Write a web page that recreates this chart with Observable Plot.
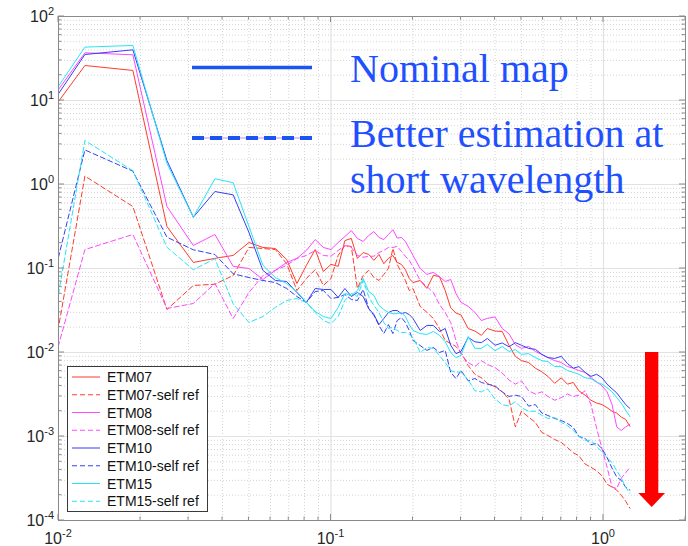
<!DOCTYPE html>
<html><head><meta charset="utf-8">
<script src="https://cdn.jsdelivr.net/npm/d3@7"></script>
<script src="https://cdn.jsdelivr.net/npm/@observablehq/plot@0.6"></script>
<style>
body{margin:0;background:#fff;}
#wrap{width:688px;height:546px;}
</style></head><body><div id="wrap"></div>
<script>
// spatial frequency samples
const freq = [0.00625,0.0125,0.01875,0.025,0.03125,0.0375,0.04375,0.05,0.05625,0.0625,
0.06875,0.075,0.08125,0.0875,0.09375,0.1,0.10625,0.1125,0.11875,0.125,
0.13125,0.1375,0.14375,0.15,0.15625,0.1625,0.16875,0.175,0.18125,0.1875,
0.19375,0.2,0.2125,0.225,0.2375,0.25,0.2625,0.275,0.2875,0.3,
0.31875,0.3375,0.35625,0.375,0.4,0.425,0.45,0.475,0.5,0.53125,
0.5625,0.59375,0.625,0.6625,0.7,0.7375,0.775,0.8125,0.85625,0.9,
0.94375,0.9875,1.03125,1.075,1.11875,1.1625,1.20625,1.25];

const ETM07 = [1.22,26.1,22.8,0.316,0.118,0.132,0.143,0.204,0.178,0.173,
0.128,0.0663,0.109,0.168,0.092,0.112,0.106,0.215,0.228,0.132,
0.155,0.147,0.125,0.147,0.114,0.132,0.143,0.118,0.112,0.097,
0.076,0.068,0.072,0.058,0.083,0.080,0.0547,0.034,0.0295,0.028,
0.0193,0.018,0.016,0.0193,0.018,0.0178,0.0122,0.0090,0.0080,0.0076,
0.0065,0.0059,0.0052,0.0043,0.0050,0.0042,0.0044,0.0035,0.0031,0.0027,
0.0025,0.0024,0.0022,0.0020,0.0019,0.0017,0.0016,0.00132];
const ETM07ref = [3.2e-6,1.26,0.547,0.0325,0.0628,0.065,0.0825,0.178,0.173,0.168,
0.114,0.0547,0.076,0.097,0.0628,0.076,0.143,0.188,0.183,0.0578,
0.0825,0.095,0.078,0.072,0.085,0.1,0.173,0.112,0.090,0.072,
0.0547,0.0578,0.0353,0.030,0.0254,0.0193,0.0139,0.0128,0.0118,0.0100,
0.0070,0.0055,0.0050,0.0043,0.0039,0.0034,0.0028,0.0013,0.0020,0.0017,
0.00147,0.00112,0.00103,0.00092,0.00085,0.00074,0.00064,0.00059,0.00047,0.00043,
0.00039,0.00034,0.00027,0.00025,0.00023,0.00020,0.00017,0.00014];
const ETM08 = [1.63,37,35,0.547,0.188,0.254,0.106,0.1,0.074,0.095,
0.118,0.132,0.164,0.221,0.178,0.168,0.204,0.240,0.283,0.228,
0.210,0.247,0.275,0.234,0.221,0.254,0.290,0.230,0.234,0.21,
0.173,0.143,0.1,0.085,0.090,0.080,0.070,0.074,0.0505,0.0395,
0.0355,0.030,0.024,0.0255,0.0265,0.0193,0.0167,0.0124,0.0112,0.0118,
0.0103,0.0095,0.0087,0.0080,0.0076,0.0068,0.0065,0.0061,0.0058,0.0050,
0.0045,0.0040,0.0034,0.0024,0.0013,0.00118,0.0013,0.0014];
const ETM08ref = [4.8e-5,0.168,0.254,0.0334,0.0383,0.0663,0.0254,0.0518,0.0825,0.095,
0.109,0.132,0.143,0.164,0.143,0.140,0.164,0.188,0.178,0.143,
0.136,0.140,0.140,0.155,0.164,0.178,0.178,0.183,0.16,0.14,
0.125,0.105,0.072,0.061,0.0518,0.0373,0.0299,0.0228,0.0139,0.0095,
0.0076,0.0068,0.0080,0.0072,0.0066,0.0057,0.0047,0.0042,0.0046,0.0035,
0.0032,0.0034,0.0030,0.0027,0.0029,0.0032,0.0030,0.0031,0.0035,0.0024,
0.00125,0.00072,0.00043,0.00025,0.00024,0.00032,0.00037,0.00043];
const ETM10 = [1.25,35.3,40.1,1.93,0.408,0.825,0.753,0.268,0.095,0.072,
0.070,0.0518,0.0394,0.0578,0.0563,0.0563,0.0452,0.0578,0.0464,0.0518,
0.0464,0.0334,0.0283,0.0215,0.0254,0.0299,0.0316,0.0316,0.029,0.0299,
0.0283,0.0254,0.0183,0.021,0.021,0.0178,0.0193,0.0122,0.0097,0.0103,
0.0151,0.0134,0.0131,0.0147,0.0122,0.013,0.0117,0.0131,0.0122,0.0112,
0.0109,0.0095,0.0087,0.0085,0.0090,0.0074,0.0065,0.0068,0.0058,0.0052,
0.0055,0.0050,0.0042,0.0037,0.0033,0.0028,0.0024,0.00216];
const ETM10ref = [2.8e-4,2.58,1.44,0.236,0.167,0.147,0.0865,0.078,0.072,0.068,
0.0578,0.0464,0.0394,0.0532,0.0547,0.044,0.0452,0.049,0.0428,0.0416,
0.0563,0.0334,0.0276,0.021,0.0168,0.0215,0.0168,0.024,0.0261,0.0228,
0.0183,0.0139,0.0121,0.0106,0.0115,0.0100,0.0106,0.0058,0.0049,0.0061,
0.0046,0.0049,0.0044,0.0042,0.0040,0.0034,0.0030,0.0031,0.0030,0.0023,
0.0024,0.0019,0.00178,0.00164,0.00155,0.00143,0.00128,0.00100,0.00095,0.00080,
0.00083,0.00072,0.00056,0.00042,0.00033,0.00030,0.00025,0.00023];
const ETM15 = [1.56,43.2,45.2,1.78,0.408,1.17,1.05,0.316,0.109,0.078,
0.0663,0.0532,0.0394,0.0308,0.0268,0.0254,0.0344,0.0504,0.0477,0.0547,
0.076,0.0532,0.0477,0.0363,0.0325,0.0299,0.029,0.029,0.0299,0.0268,
0.0215,0.0183,0.0168,0.0164,0.0178,0.016,0.0135,0.0100,0.0087,0.0092,
0.0155,0.0112,0.0112,0.0125,0.0105,0.0118,0.0103,0.0108,0.0095,0.0097,
0.0087,0.0080,0.0078,0.0068,0.0068,0.0061,0.0058,0.0055,0.0050,0.0049,
0.0044,0.0042,0.0038,0.0034,0.0029,0.0025,0.00206,0.00173];
const ETM15ref = [7e-6,3.34,1.46,0.179,0.0965,0.131,0.038,0.0228,0.0268,0.0344,
0.0416,0.0439,0.0394,0.0299,0.024,0.0221,0.0268,0.0416,0.0504,0.0464,
0.072,0.0464,0.0363,0.0299,0.0228,0.0193,0.0199,0.0183,0.0173,0.0173,
0.0164,0.0151,0.0100,0.0115,0.0112,0.0092,0.0076,0.0061,0.0058,0.0059,
0.0047,0.0035,0.0034,0.0037,0.0028,0.0024,0.0023,0.0026,0.0022,0.0020,
0.0020,0.00178,0.00164,0.00168,0.00147,0.00135,0.00118,0.0010,0.00090,0.00090,
0.00076,0.00066,0.00056,0.00049,0.00039,0.00032,0.00025,0.00021];

const seriesNames = ["ETM07","ETM07-self ref","ETM08","ETM08-self ref","ETM10","ETM10-self ref","ETM15","ETM15-self ref"];
const seriesValues = [ETM07,ETM07ref,ETM08,ETM08ref,ETM10,ETM10ref,ETM15,ETM15ref];

// axis ticks
const xMajor = [0.01, 0.1, 1];
const xExp = ["-2","-1","0"];
const yMajor = [1e-4, 1e-3, 1e-2, 1e-1, 1, 10, 100];
const yExp = ["-4","-3","-2","-1","0","1","2"];
const minorMult = [2,3,4,5,6,7,8,9];

// annotation texts
const noteSolid = ["Nominal map"];
const noteDashed = ["Better estimation at", "short wavelength"];

// styles (kept apart from data)
const seriesColors = ["#ff3b2c","#ff3b2c","#ff47ff","#ff47ff","#3340f2","#3340f2","#22e6f7","#22e6f7"];
const seriesDash = [null,"5,3",null,"5,3",null,"5,3",null,"5,3"];

const xMinor = xMajor.flatMap(d => minorMult.map(m => d*m)).filter(v => v <= 2);
const yMinor = yMajor.slice(0,-1).flatMap(d => minorMult.map(m => d*m));

const lineMarks = seriesValues.map((vals, i) =>
  Plot.line(freq.map((f, j) => ({f, v: vals[j], s: seriesNames[i]})), {
    x: "f", y: "v", stroke: seriesColors[i], strokeWidth: 1,
    strokeDasharray: seriesDash[i], clip: true
  })
);

const chart = Plot.plot({
  width: 688, height: 546,
  marginLeft: 58, marginRight: 3, marginTop: 16, marginBottom: 26,
  x: {type: "log", domain: [0.01, 2], axis: null},
  y: {type: "log", domain: [1e-4, 100], axis: null},
  style: {background: "white"},
  marks: [
    Plot.ruleX(xMinor, {stroke: "#c8c8c8", strokeWidth: 0.8, strokeDasharray: "1,2"}),
    Plot.ruleY(yMinor, {stroke: "#c8c8c8", strokeWidth: 0.8, strokeDasharray: "1,2"}),
    Plot.ruleX(xMajor, {stroke: "#e2e2e2", strokeWidth: 1.2}),
    Plot.ruleY(yMajor, {stroke: "#e2e2e2", strokeWidth: 1.2}),
    ...lineMarks,
    Plot.frame({stroke: "#8a8a8a", strokeWidth: 1})
  ]
});
document.getElementById("wrap").appendChild(chart);

const X = chart.scale("x"), Y = chart.scale("y");
const [L, R] = X.range, [B, T] = Y.range;
const svg = d3.select(chart);
const font = "'Liberation Sans', Arial, Helvetica, sans-serif";

// inward ticks on all four sides
const tg = svg.append("g").attr("stroke", "#8a8a8a").attr("stroke-width", 1);
function xt(v, len){ const x = X.apply(v);
  tg.append("line").attr("x1", x).attr("x2", x).attr("y1", B).attr("y2", B - len);
  tg.append("line").attr("x1", x).attr("x2", x).attr("y1", T).attr("y2", T + len); }
function yt(v, len){ const y = Y.apply(v);
  tg.append("line").attr("y1", y).attr("y2", y).attr("x1", L).attr("x2", L + len);
  tg.append("line").attr("y1", y).attr("y2", y).attr("x1", R).attr("x2", R - len); }
xMajor.forEach(v => xt(v, 6)); xMinor.forEach(v => xt(v, 3.5));
yMajor.forEach(v => yt(v, 6)); yMinor.forEach(v => yt(v, 3.5));

// tick labels 10^n
const lg = svg.append("g").attr("font-family", font).attr("fill", "#262626").attr("font-size", 16);
yMajor.forEach((v, i) => {
  const t = lg.append("text").attr("x", L - 4).attr("y", Y.apply(v) + 6).attr("text-anchor", "end");
  t.append("tspan").text("10");
  t.append("tspan").attr("dy", -7).attr("font-size", 11).text(yExp[i]);
});
xMajor.forEach((v, i) => {
  const t = lg.append("text").attr("x", X.apply(v)).attr("y", B + 24).attr("text-anchor", "middle");
  t.append("tspan").text("10");
  t.append("tspan").attr("dy", -7).attr("font-size", 11).text(xExp[i]);
});

// legend box
const leg = svg.append("g").attr("font-family", font).attr("font-size", 14).attr("text-anchor", "start");
leg.append("rect").attr("x", 67.5).attr("y", 366.5).attr("width", 140).attr("height", 145)
  .attr("fill", "white").attr("stroke", "#3a3a3a").attr("stroke-width", 1);
seriesNames.forEach((name, i) => {
  const cy = 377 + i * 17.75;
  leg.append("line").attr("x1", 72).attr("x2", 100).attr("y1", cy).attr("y2", cy)
    .attr("stroke", seriesColors[i]).attr("stroke-width", 1)
    .attr("stroke-dasharray", seriesDash[i]);
  leg.append("text").attr("x", 107).attr("y", cy + 5).attr("fill", "#111").attr("text-anchor", "start").text(name);
});

// annotations
const ann = svg.append("g");
ann.append("line").attr("x1", 192).attr("x2", 312).attr("y1", 67.5).attr("y2", 67.5)
  .attr("stroke", "#1a55f2").attr("stroke-width", 3.6);
ann.append("line").attr("x1", 192).attr("x2", 312).attr("y1", 138).attr("y2", 138)
  .attr("stroke", "#c08cff").attr("stroke-width", 1);
ann.append("line").attr("x1", 192).attr("x2", 312).attr("y1", 138).attr("y2", 138)
  .attr("stroke", "#1a55f2").attr("stroke-width", 4).attr("stroke-dasharray", "12,6");
const at = ann.append("g").attr("font-family", "'Liberation Serif', 'Times New Roman', Times, serif")
  .attr("font-size", 40).attr("fill", "#1f50ff").attr("text-anchor", "start");
at.append("text").attr("x", 350).attr("y", 82).attr("text-anchor", "start").text(noteSolid[0]);
noteDashed.forEach((s, i) => at.append("text").attr("x", 350).attr("y", 147 + i * 46).attr("text-anchor", "start").text(s));
ann.append("polygon")
  .attr("points", "645,352 658.3,352 658.3,493 665,493 651.7,507 638.3,493 645,493")
  .attr("fill", "#ff0000");
</script></body></html>
